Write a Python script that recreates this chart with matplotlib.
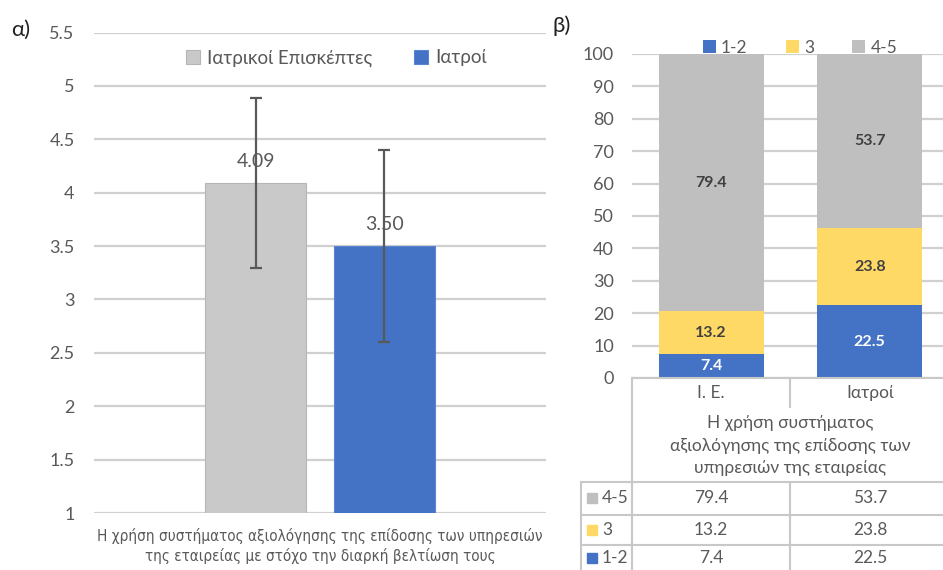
import matplotlib.pyplot as plt
import matplotlib.font_manager as fm
from matplotlib.lines import Line2D
from matplotlib.patches import Rectangle
import numpy as np

plt.rcParams['font.family'] = ['Lato', 'DejaVu Sans']

# (α) mean score with standard deviation
groups = ["Ιατρικοί Επισκέπτες", "Ιατροί"]
means = [4.09, 3.50]
sds = [0.80, 0.90]
colors_a = ["#C9C9C9", "#4472C4"]
xlabel_a = ("Η χρήση συστήματος αξιολόγησης της επίδοσης των υπηρεσιών\n"
            "της εταιρείας με στόχο την διαρκή βελτίωση τους")

# (β) answer distribution (%)
cats = ["Ι. Ε.", "Ιατροί"]
levels = ["1-2", "3", "4-5"]
pct = {
    "1-2": [7.4, 22.5],
    "3": [13.2, 23.8],
    "4-5": [79.4, 53.7],
}
colors_b = {"1-2": "#4472C4", "3": "#FFD966", "4-5": "#BFBFBF"}
title_b = ["Η χρήση συστήματος", "αξιολόγησης της επίδοσης των", "υπηρεσιών της εταιρείας"]

TXT = "#595959"
GRID = "#D0D0D0"
W, H = 943, 570

# a condensed face (with Greek) for the long axis caption
narrow = fm.FontProperties(family="Lato", size=11)
for f in fm.fontManager.ttflist:
    if f.name.startswith("DejaVu Sans") and f.stretch in ("condensed", "semi-condensed") \
            and f.style == "normal" and f.weight in (400, "normal", "regular"):
        narrow = fm.FontProperties(fname=f.fname, size=11)
        break

fig = plt.figure(figsize=(9.43, 5.70), dpi=100)


def fx(px):
    return px / W


def fy(py):
    return 1 - py / H


# ---------- panel α ----------
ax1 = fig.add_axes([fx(94), fy(513), fx(546) - fx(94), fy(32.5) - fy(513)])
bw = 0.45
gap = 0.12
off = (bw + gap) / 2
xs = np.array([-off, off])
for x, m, s, c, g in zip(xs, means, sds, colors_a, groups):
    ax1.bar(x, m, width=bw, color=c, edgecolor="#B5B5B5" if c != "#4472C4" else "#5B85D0",
            linewidth=0.8, label=g, zorder=2)
    ax1.errorbar(x, m, yerr=s, color="#595959", lw=1.6, capsize=4, capthick=1.6, zorder=3)
    ax1.text(x, m + 0.2, f"{m:.2f}", ha="center", va="center", fontsize=14, color=TXT, zorder=4)
ax1.set_xlim(-1, 1)
ax1.set_ylim(1, 5.5)
ax1.set_yticks(np.arange(1, 5.51, 0.5))
ax1.set_yticklabels([f"{v:g}" for v in np.arange(1, 5.51, 0.5)])
ax1.set_xticks([])
ax1.yaxis.grid(True, color=GRID, lw=1.6, zorder=0)
ax1.set_axisbelow(True)
for sp in ax1.spines.values():
    sp.set_visible(False)
ax1.tick_params(axis="y", length=0, pad=14, labelsize=13, labelcolor=TXT)
ax1.set_xlabel(xlabel_a, fontproperties=narrow, color=TXT, labelpad=11, linespacing=1.25)
ax1.legend(loc="center", bbox_to_anchor=(0.536, 0.947), ncol=2, frameon=False, fontsize=13.5,
           labelcolor=TXT, handlelength=0.75, handleheight=0.75, handletextpad=0.4,
           columnspacing=2.2)
fig.text(fx(11), fy(30), "α)", fontsize=16, color="#222222", va="center")

# ---------- panel β ----------
ax2 = fig.add_axes([fx(632), fy(378), fx(949) - fx(632), fy(54) - fy(378)])
bw2 = 0.66
xb = np.arange(len(cats))
bottom = np.zeros(len(cats))
for lv in levels:
    vals = np.array(pct[lv])
    ax2.bar(xb, vals, width=bw2, bottom=bottom, color=colors_b[lv], label=lv, zorder=2)
    for x, b, v in zip(xb, bottom, vals):
        ax2.text(x, b + v / 2, f"{v:.1f}", ha="center", va="center", fontsize=11.5,
                 fontweight="bold", color="white" if lv == "1-2" else "#404040", zorder=3)
    bottom += vals
ax2.set_xlim(-0.5, 1.5)
ax2.set_ylim(0, 100)
ax2.set_yticks(range(0, 101, 10))
ax2.set_xticks([])
ax2.yaxis.grid(True, color=GRID, lw=1.6, zorder=0)
ax2.set_axisbelow(True)
for sp in ax2.spines.values():
    sp.set_visible(False)
ax2.tick_params(axis="y", length=0, pad=13, labelsize=13, labelcolor=TXT)
ax2.legend(loc="center", bbox_to_anchor=(0.53, 1.02), ncol=3, frameon=False, fontsize=12.5,
           labelcolor=TXT, handlelength=0.75, handleheight=0.75, handletextpad=0.3,
           columnspacing=2.2)
fig.text(fx(553), fy(26), "β)", fontsize=16, color="#222222", va="center")

# data table under panel β
LC = "#C8C8C8"


def hline(y, x0, x1):
    fig.add_artist(Line2D([fx(x0), fx(x1)], [fy(y), fy(y)], color=LC, lw=1.5))


def vline(x, y0, y1):
    fig.add_artist(Line2D([fx(x), fx(x)], [fy(y0), fy(y1)], color=LC, lw=1.5))


hline(378, 632, 943)
vline(632, 378, 570)
vline(790, 378, 407)
vline(790, 482, 570)
vline(581, 482, 570)
for y in [482, 515, 545]:
    hline(y, 581, 943)

col_x = [711, 870]
for cx, c in zip(col_x, cats):
    fig.text(fx(cx), fy(393), c, ha="center", va="center", fontsize=12.5, color=TXT)
for i, line in enumerate(title_b):
    fig.text(fx(790), fy(423 + 22.5 * i), line, ha="center", va="center", fontsize=12.5, color=TXT)

row_y = [498, 530, 558]
for ry, lv in zip(row_y, levels[::-1]):
    fig.add_artist(Rectangle((fx(587), fy(ry + 5)), fx(10), 10 / H,
                             color=colors_b[lv], transform=fig.transFigure))
    fig.text(fx(602), fy(ry), lv, ha="left", va="center", fontsize=12.5, color=TXT)
    for cx, v in zip(col_x, pct[lv]):
        fig.text(fx(cx), fy(ry), f"{v:.1f}", ha="center", va="center", fontsize=12.5, color=TXT)

fig.savefig("out.png", dpi=100)
